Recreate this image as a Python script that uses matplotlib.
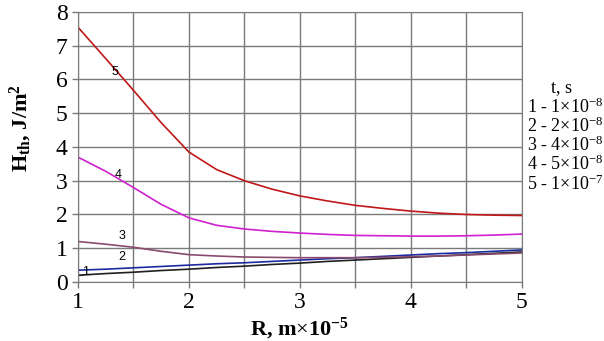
import numpy as np
from matplotlib import pyplot as plt

plt.rcParams['font.family'] = ['Liberation Serif', 'DejaVu Serif']
plt.rcParams['mathtext.fontset'] = 'custom'
plt.rcParams['mathtext.rm'] = 'Liberation Serif'
plt.rcParams['mathtext.it'] = 'Liberation Serif:italic'
plt.rcParams['mathtext.bf'] = 'Liberation Serif:bold'

r = [1.0, 1.25, 1.5, 1.75, 2.0, 2.25, 2.5, 2.75, 3.0, 3.25, 3.5, 3.75,
     4.0, 4.25, 4.5, 4.75, 5.0]
h1 = [0.20, 0.25, 0.29, 0.34, 0.38, 0.43, 0.47, 0.52, 0.56, 0.61, 0.65,
      0.69, 0.73, 0.77, 0.81, 0.85, 0.89]
h2 = [0.35, 0.38, 0.42, 0.46, 0.50, 0.54, 0.57, 0.61, 0.65, 0.69, 0.72,
      0.76, 0.80, 0.84, 0.87, 0.91, 0.95]
h3 = [1.20, 1.12, 1.03, 0.91, 0.81, 0.77, 0.74, 0.73, 0.72, 0.72, 0.72,
      0.73, 0.75, 0.77, 0.80, 0.83, 0.86]
h4 = [3.70, 3.28, 2.80, 2.30, 1.90, 1.68, 1.57, 1.50, 1.45, 1.41, 1.38,
      1.37, 1.36, 1.36, 1.37, 1.39, 1.42]
h5 = [7.55, 6.62, 5.68, 4.72, 3.85, 3.33, 3.00, 2.75, 2.55, 2.40, 2.27,
      2.18, 2.10, 2.04, 2.00, 1.98, 1.97]

series = [h1, h2, h3, h4, h5]
colors = ['#202020', '#1c2aa0', '#8a4a6e', '#d020d0', '#c01818']
labels = ['1', '2', '3', '4', '5']
# where the curve numbers sit (x, y)
label_pos = [(1.07, 0.12), (1.4, 0.55), (1.4, 1.18), (1.36, 3.0), (1.33, 6.05)]
legend_lines = ['1 - 1$\\times$10$^{\\mathregular{-8}}$', '2 - 2$\\times$10$^{\\mathregular{-8}}$',
                '3 - 4$\\times$10$^{\\mathregular{-8}}$', '4 - 5$\\times$10$^{\\mathregular{-8}}$',
                '5 - 1$\\times$10$^{\\mathregular{-7}}$']

fig = plt.figure(figsize=(6.04, 3.41), dpi=100)
ax = fig.add_axes([0.129, 0.173, 0.735, 0.792])

for y, c in zip(series, colors):
    ax.plot(r, y, color=c, lw=1.2)

for (lx, ly), lab in zip(label_pos, labels):
    ax.text(lx, ly, lab, fontsize=9, family='Liberation Sans', ha='center', va='bottom')
ax.plot([1.01, 1.04], [0.21, 0.21], color='#202020', lw=0.8)

ax.set_xlim(1, 5)
ax.set_ylim(0, 8)
ax.set_xticks(np.arange(1, 5.01, 0.5))
ax.set_xticklabels(['1', '', '2', '', '3', '', '4', '', '5'])
ax.set_yticks(range(0, 9))
ax.grid(True, color='#7a7a7a', lw=1.0)
for s in ax.spines.values():
    s.set_color('#7a7a7a')
ax.tick_params(colors='#7a7a7a', labelcolor='black', labelsize=17, length=4, width=1)

ax.set_ylabel('H$_{\\mathbf{th}}$, J/m$^{\\mathbf{2}}$', fontsize=16, fontweight='bold')
ax.yaxis.set_label_coords(-0.1, 0.57)
ax.set_xlabel('R, m$\\times$10$^{\\mathbf{-5}}$', fontsize=16, fontweight='bold', labelpad=2)

fig.text(0.93, 0.73, 't, s', fontsize=13, ha='center')
for i, t in enumerate(legend_lines):
    fig.text(0.873, 0.668 - i * 0.056, t, fontsize=13, ha='left')

fig.savefig('out.png', dpi=100)
